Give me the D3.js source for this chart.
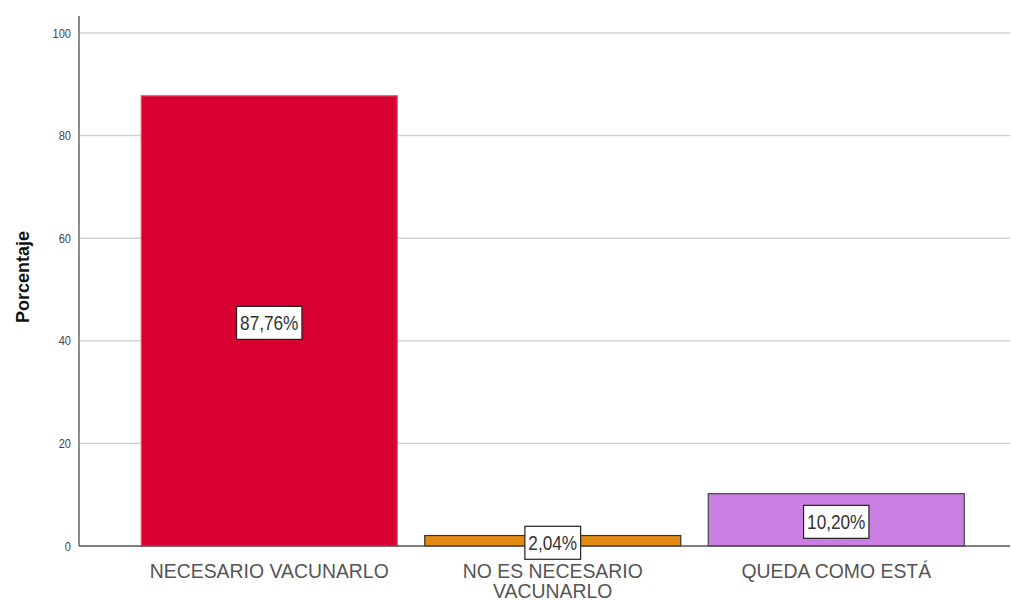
<!DOCTYPE html>
<html>
<head>
<meta charset="utf-8">
<script src="https://cdn.jsdelivr.net/npm/d3@7"></script>
<style>
  body { margin: 0; background: #fff; }
  svg { display: block; font-family: "Liberation Sans", Arial, sans-serif; }
</style>
</head>
<body>
<svg id="chart" width="1011" height="601"></svg>
<script>
const categories = ["NECESARIO VACUNARLO", "NO ES NECESARIO VACUNARLO", "QUEDA COMO ESTÁ"];
const labelLines = [["NECESARIO VACUNARLO"], ["NO ES NECESARIO", "VACUNARLO"], ["QUEDA COMO ESTÁ"]];
const values = [87.76, 2.04, 10.20];
const valueLabels = ["87,76%", "2,04%", "10,20%"];
const yTicks = [0, 20, 40, 60, 80, 100];

const colors = ["#d70030", "#e38a12", "#cc7fe2"];
const strokes = ["#e0506e", "#333333", "#444444"];

const svg = d3.select("#chart");
const plotLeft = 79, plotRight = 1010, plotTop = 16, plotBottom = 546;

const x = d3.scaleBand()
  .domain(categories)
  .range([127.5, 978])
  .paddingInner(0.097)
  .paddingOuter(0.0485);

const y = d3.scaleLinear()
  .domain([0, 100])
  .range([plotBottom, 33]);

// shrink text horizontally to mimic the narrow font of the original
function condense(sel, k) {
  sel.each(function() {
    const len = this.getComputedTextLength();
    d3.select(this).attr("textLength", len * k).attr("lengthAdjust", "spacingAndGlyphs");
  });
}

// gridlines
svg.append("g")
  .selectAll("line")
  .data(yTicks.filter(d => d > 0))
  .join("line")
  .attr("x1", plotLeft).attr("x2", plotRight)
  .attr("y1", d => y(d)).attr("y2", d => y(d))
  .attr("stroke", "#d2d2d2")
  .attr("stroke-width", 1.5);

// y axis
const yAxis = svg.append("g")
  .attr("transform", `translate(${plotLeft},0)`)
  .call(d3.axisLeft(y).tickValues(yTicks).tickSize(0).tickPadding(8));
yAxis.select(".domain").remove();
yAxis.selectAll("text")
  .attr("font-size", 13)
  .attr("fill", "#444")
  .call(condense, 0.85);

svg.append("line")
  .attr("x1", plotLeft).attr("x2", plotLeft)
  .attr("y1", plotTop).attr("y2", plotBottom)
  .attr("stroke", "#8c8c8c")
  .attr("stroke-width", 2);

// bars
svg.append("g")
  .selectAll("rect")
  .data(values)
  .join("rect")
  .attr("x", (d, i) => x(categories[i]))
  .attr("y", d => y(d))
  .attr("width", x.bandwidth())
  .attr("height", d => plotBottom - y(d))
  .attr("fill", (d, i) => colors[i])
  .attr("stroke", (d, i) => strokes[i])
  .attr("stroke-width", 1.2);

// baseline
svg.append("line")
  .attr("x1", plotLeft).attr("x2", plotRight)
  .attr("y1", plotBottom).attr("y2", plotBottom)
  .attr("stroke", "#555")
  .attr("stroke-width", 1.5);

// value labels in boxes
const lab = svg.append("g")
  .selectAll("g")
  .data(values)
  .join("g")
  .attr("transform", (d, i) =>
    `translate(${x(categories[i]) + x.bandwidth() / 2},${(y(d) + plotBottom) / 2 + 2})`);

lab.append("rect");
lab.append("text")
  .attr("text-anchor", "middle")
  .attr("dy", "0.36em")
  .attr("font-size", 20)
  .attr("fill", "#333")
  .text((d, i) => valueLabels[i])
  .call(condense, 0.86);

lab.each(function() {
  const g = d3.select(this);
  const w = +g.select("text").attr("textLength");
  g.select("rect")
    .attr("x", -w / 2 - 3.5).attr("y", -16.5)
    .attr("width", w + 7).attr("height", 33)
    .attr("fill", "#fff")
    .attr("stroke", "#222")
    .attr("stroke-width", 1.2);
});

// category labels, one text per line
const cat = svg.append("g")
  .selectAll("g")
  .data(categories)
  .join("g")
  .attr("transform", d => `translate(${x(d) + x.bandwidth() / 2},0)`);

cat.selectAll("text")
  .data((d, i) => labelLines[i])
  .join("text")
  .attr("text-anchor", "middle")
  .attr("y", (t, j) => 578 + j * 20)
  .attr("font-size", 20)
  .attr("fill", "#555")
  .text(t => t)
  .call(condense, 0.97);

// y axis title
svg.append("text")
  .attr("transform", "rotate(-90)")
  .attr("x", -277)
  .attr("y", 29)
  .attr("text-anchor", "middle")
  .attr("font-size", 18)
  .attr("font-weight", "bold")
  .attr("fill", "#111")
  .text("Porcentaje");
</script>
</body>
</html>
